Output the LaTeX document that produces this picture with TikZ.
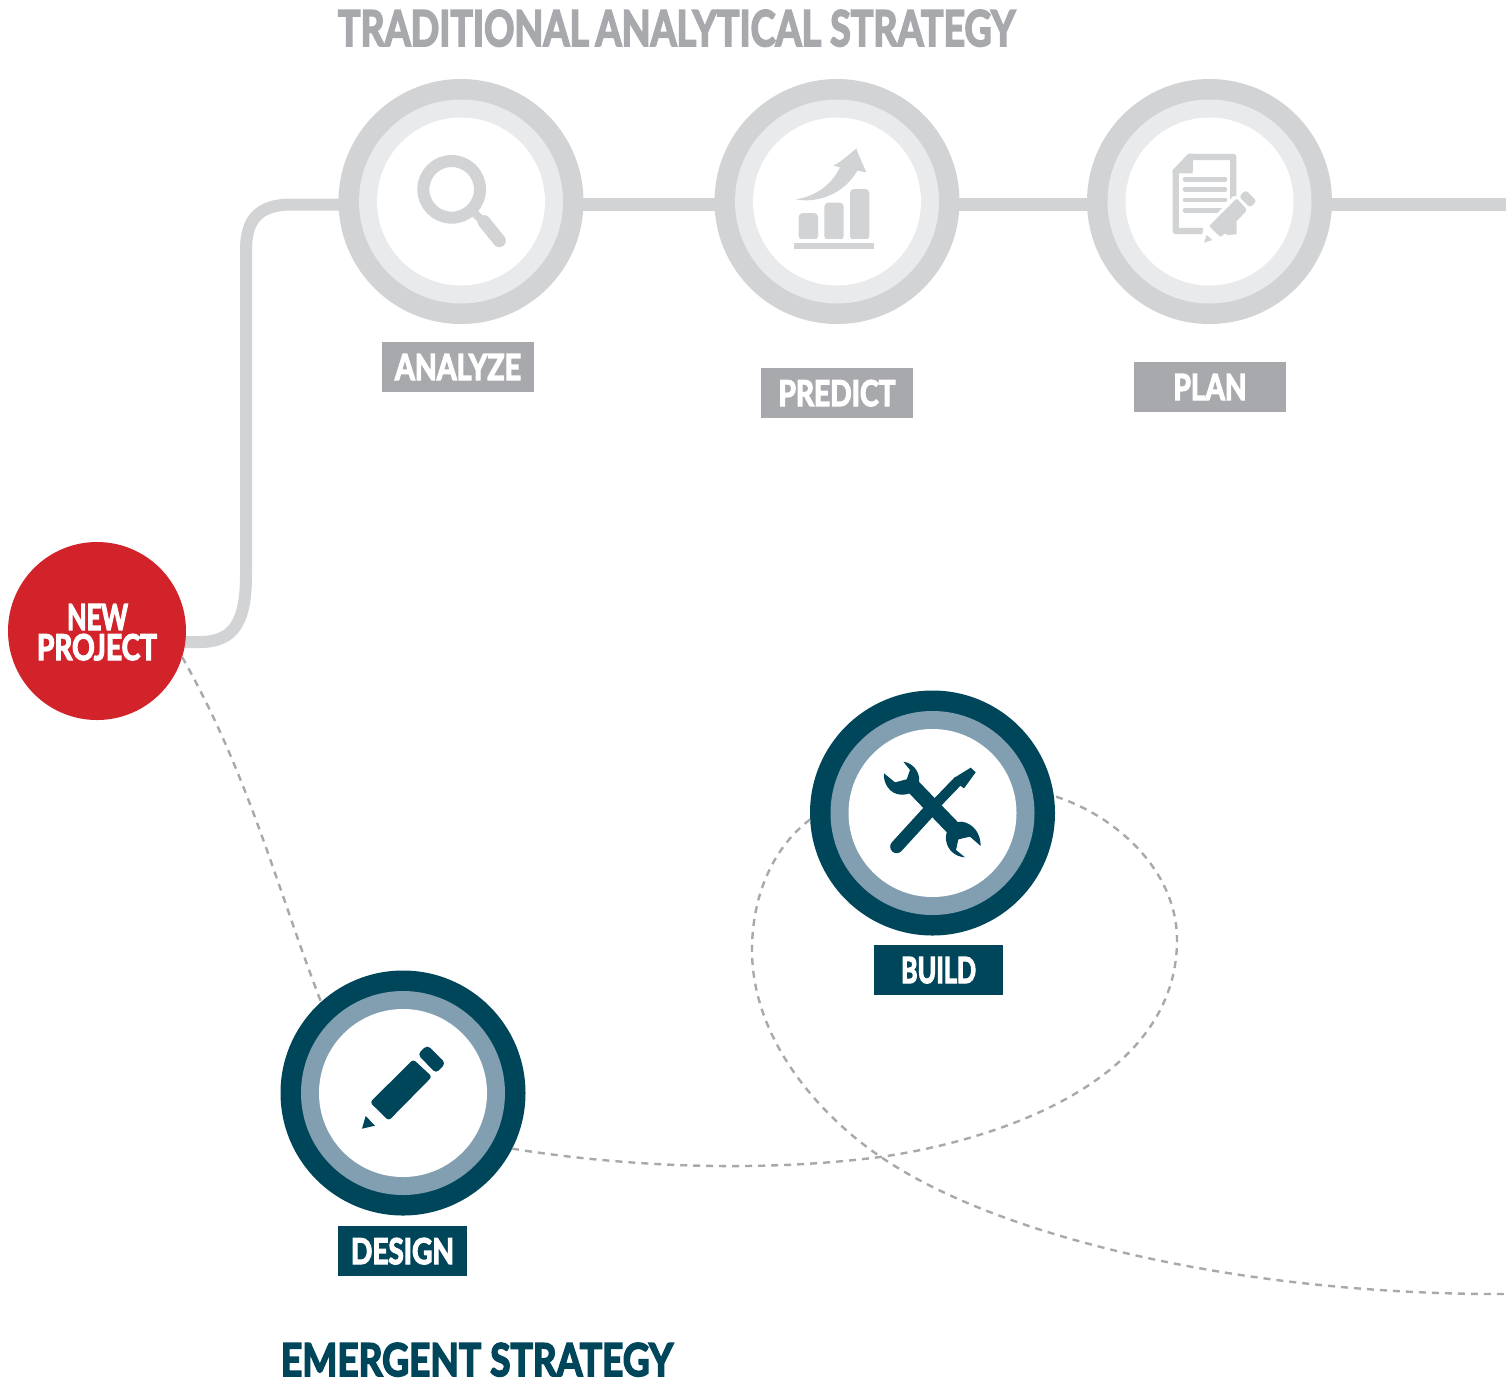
\documentclass[tikz,border=0pt]{standalone}
\usepackage{fontspec}
\usepackage{graphicx}
\setmainfont{Lato}[BoldFeatures={FakeBold=4}]
\usetikzlibrary{backgrounds}
\definecolor{ringgrey}{HTML}{D1D3D4}
\definecolor{ringlight}{HTML}{E9EAEC}
\definecolor{labelgrey}{HTML}{A7A9AC}
\definecolor{teal}{HTML}{00465B}
\definecolor{ringteal}{HTML}{829FB2}
\definecolor{projectred}{HTML}{D2232A}
\definecolor{dashgrey}{HTML}{A7A9AC}
\newcommand{\fittext}[3]{\resizebox{#1pt}{#2pt}{\bfseries\raisebox{0pt}[\height][0pt]{#3}}}
\tikzset{
  disc/.style={circle,inner sep=0pt,outer sep=0pt,minimum size=#1},
  labelbox/.style={inner sep=0pt,outer sep=0pt,minimum height=50pt,text=white},
  railline/.style={draw=ringgrey,line width=13pt},
  dashline/.style={draw=dashgrey,line width=2.4pt,dash pattern=on 7pt off 6pt},
  greyicon/.style={fill=ringgrey,draw=none},
  tealicon/.style={fill=teal,draw=none},
  plaintitle/.style={inner sep=0pt,outer sep=0pt}
}
\newcommand{\ringset}[6]{% name, x, y, outer, mid, inner colours
  \node[disc=245pt,fill=#4] (#1) at (#2,#3) {};
  \node[disc=204pt,fill=#5] (#1mid) at (#2,#3) {};
  \node[disc=168pt,fill=#6] (#1core) at (#2,#3) {};
}
\begin{document}
\begin{tikzpicture}[x=1pt,y=-1pt]
\useasboundingbox (0,0) rectangle (1506,1377);

% titles
\node[plaintitle,anchor=center,text=labelgrey] (title1) at (676.5,28) {\fittext{677}{36}{TRADITIONAL\hspace{-.07em} ANALYTICAL STRATEGY}};
\node[plaintitle,anchor=center,text=teal] (title2) at (477,1359.5) {\fittext{392}{33}{EMERGENT STRATEGY}};

% circles
\ringset{analyze}{461}{201.5}{ringgrey}{ringlight}{white}
\ringset{predict}{837}{201.5}{ringgrey}{ringlight}{white}
\ringset{plan}{1209.5}{201.5}{ringgrey}{ringlight}{white}
\ringset{build}{932.5}{813}{teal}{ringteal}{white}
\ringset{design}{403}{1093}{teal}{ringteal}{white}
\node[disc=178pt,fill=projectred] (project) at (97,631) {};
\node[plaintitle,text=white] (projA) at (97.5,617) {\fittext{61}{26}{NEW}};
\node[plaintitle,text=white] (projB) at (97,647) {\fittext{120}{26}{PROJECT}};

% labels
\node[labelbox,fill=labelgrey,minimum width=152pt] (lanalyze) at (458,367) {\fittext{126}{26}{ANALYZE}};
\node[labelbox,fill=labelgrey,minimum width=152pt] (lpredict) at (837,393) {\fittext{117}{26}{PREDICT}};
\node[labelbox,fill=labelgrey,minimum width=152pt] (lplan) at (1210,387) {\fittext{73}{26}{PLAN}};
\node[labelbox,fill=teal,minimum width=129pt] (lbuild) at (938.5,970) {\fittext{75}{26}{BUILD}};
\node[labelbox,fill=teal,minimum width=129pt] (ldesign) at (402.5,1251) {\fittext{103}{26}{DESIGN}};

\coordinate (railend) at (1506,204.5);
\coordinate (dashend) at (1506,1294);
\coordinate (railstart) at (200,642);

\begin{scope}[on background layer]
\fill[white] (0,0) rectangle (1506,1377);
\draw[railline] (analyze |- railend) -- (predict |- railend);
\draw[railline] (predict |- railend) -- (plan |- railend);
\draw[railline] (plan |- railend) -- (railend);
\draw[railline,line width=12pt] (project |- railstart) -- (railstart)
  .. controls (235,642) and (246,620) .. (246,575) -- (246,250)
  .. controls (246,220) and (258,204.5) .. (292,204.5) -- (analyze |- railend);
\end{scope}

% dashed routes
\draw[dashline] (project.-17) .. controls (248,773) and (277,888) .. (design.132);
\draw[dashline] (design.-27.6) .. controls (600,1163) and (740,1175) .. (880,1157)
  .. controls (1000,1140) and (1177,1080) .. (1177,940)
  .. controls (1177,870) and (1115,815) .. (build.8.4);
\draw[dashline] (build.183) .. controls (770,850) and (752,900) .. (752,950)
  .. controls (752,1040) and (820,1115) .. (878,1155)
  .. controls (1000,1240) and (1250,1295) .. (dashend);

% magnifier
\begin{scope}[shift={(400,140)},x=1/3*1pt,y=-1/3*1pt]
  \draw[ringgrey,line width=12pt] (155,148) circle (85);
  \draw[ringgrey,line width=8pt] (222,218) -- (245,240);
  \draw[ringgrey,line width=13pt,line cap=round] (252,245) -- (298,302);
\end{scope}

% chart
\begin{scope}[shift={(760,120)},x=1/3*1pt,y=-1/3*1pt]
  \fill[greyicon] (102,369) rectangle (342,387);
  \fill[greyicon,rounded corners=4pt] (116,360) -- (116,279) -- (174,279) -- (174,360) -- cycle;
  \fill[greyicon,rounded corners=4pt] (193,360) -- (193,248) -- (251,248) -- (251,360) -- cycle;
  \fill[greyicon,rounded corners=4pt] (270,360) -- (270,207) -- (328,207) -- (328,360) -- cycle;
  \fill[white] (110,356) rectangle (335,369);
  \fill[greyicon] (107,238) .. controls (165,230) and (215,195) .. (240,142)
    -- (220,137) .. controls (245,125) and (270,100) .. (290,85)
    -- (292,95) -- (319,157) -- (292,152)
    .. controls (250,225) and (170,250) .. (107,238) -- cycle;
\end{scope}

% document and pencil
\begin{scope}[shift={(760,120)},x=1/3*1pt,y=-1/3*1pt]
  \draw[ringgrey,line width=6.3pt,line join=round] (1247,156) -- (1290,111) -- (1420,111) -- (1420,333) -- (1247,333) -- cycle;
  \fill[greyicon] (1238,150) -- (1285,101) -- (1300,101) -- (1298,160) -- (1238,160) -- cycle;
  \foreach \yy in {177.5,208,240,271}
    \draw[ringgrey,line width=4.7pt,line cap=round] (1275,\yy) -- (1395,\yy);
  \fill[white] (1330,325) -- (1420,228) -- (1500,240) -- (1440,345) -- (1385,375) -- (1320,375) -- cycle;
  \draw[ringgrey,line width=6.3pt] (1420,300) -- (1420,333) -- (1385,333);
  \fill[greyicon,rounded corners=2pt] (1347,318) -- (1410,255) -- (1430,235) -- (1462,270) -- (1382,352) -- cycle;
  \fill[greyicon] (1400,345) -- (1430,305) -- (1430,343) -- cycle;
  \fill[greyicon,rounded corners=3pt] (1457,210) -- (1490,243) -- (1470,263) -- (1437,230) -- cycle;
  \fill[greyicon] (1340,345) -- (1357,360) -- (1332,368) -- cycle;
\end{scope}

% tools
\begin{scope}[shift={(860,740)},x=1/3*1pt,y=-1/3*1pt]
  \draw[teal,line width=13pt,line cap=round] (110,320) -- (215,205);
  \draw[teal,line width=10pt] (215,205) -- (295,122);
  \fill[tealicon] (285,112) -- (332,83) -- (347,97) -- (312,145) -- (298,135) -- (288,125) -- cycle;
  \draw[teal,line width=15pt] (155,135) -- (285,270);
  \fill[tealicon] (130,65) .. controls (165,70) and (185,105) .. (175,135)
    .. controls (165,165) and (115,175) .. (90,150)
    .. controls (75,135) and (70,115) .. (72,100)
    -- (105,127) -- (140,118) -- (150,90) -- cycle;
  \fill[tealicon] (362,318) .. controls (362,280) and (340,250) .. (305,245)
    .. controls (270,245) and (255,275) .. (258,300)
    .. controls (262,330) and (285,350) .. (315,352)
    -- (288,330) -- (295,298) -- (330,290) -- cycle;
\end{scope}

% pencil
\begin{scope}[shift={(340,1030)},x=1/3*1pt,y=-1/3*1pt]
  \fill[tealicon,rounded corners=3pt] (146,272) -- (90,217) -- (220,88) -- (276,140) -- cycle;
  \fill[tealicon,rounded corners=4pt] (262,45) -- (317,100) -- (288,130) -- (233,73) -- cycle;
  \fill[tealicon] (77,258) -- (105,287) -- (66,296) -- cycle;
\end{scope}
\end{tikzpicture}
\end{document}
